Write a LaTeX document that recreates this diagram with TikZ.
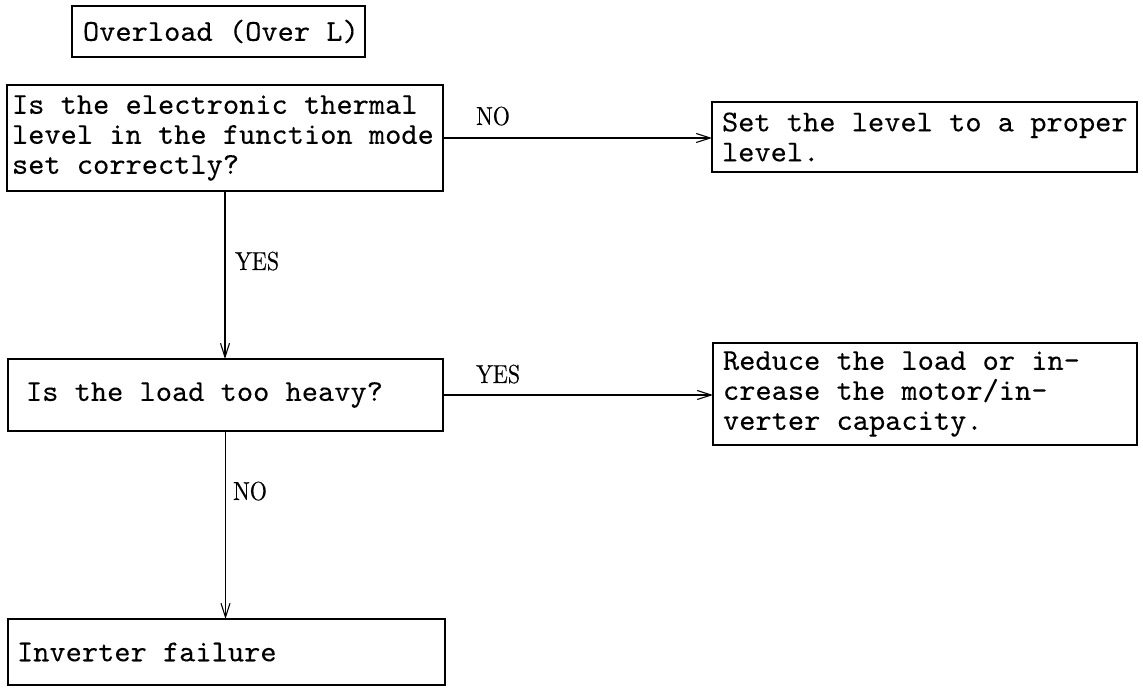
\documentclass[tikz,border=0pt]{standalone}
\usepackage{fontspec}
\usetikzlibrary{arrows.meta}
\newfontfamily\boxfont{lmmono10-regular.otf}[FakeStretch=1.02,FakeBold=0.15]
\newfontfamily\lblfont{lmroman10-regular.otf}[FakeStretch=0.85,FakeBold=0.3]
\newcommand\boxtext{\boxfont\fontsize{30.3}{30}\selectfont\spaceskip=0.5355em plus 0pt minus 0pt\relax}
\begin{document}
\begin{tikzpicture}[x=1pt,y=-1pt,
  fbox/.style={draw, line width=1.9pt, outer sep=0pt, inner ysep=0pt, align=left, anchor=west,
    font=\boxtext},
  conn/.style={line width=1.1pt, -{Straight Barb[length=14pt,width=9pt]}},
  lbl/.style={anchor=base west, inner sep=0pt, font={\lblfont\fontsize{26}{26}\selectfont}}]
\useasboundingbox[fill=white] (0,0) rectangle (1143,692);

\node[fbox, inner xsep=11pt, text width=271pt, minimum height=51pt] (title) at (72,31.5)
  {\boxtext\mbox{Overload (Over L)}};
\node[fbox, inner xsep=5pt, text width=426pt, minimum height=106pt] (b1) at (7,138)
  {\boxtext\mbox{Is the electronic thermal}\\\mbox{level in the function mode}\\\mbox{set correctly?}};
\node[fbox, inner xsep=10pt, text width=405pt, minimum height=70pt] (r1) at (712,137)
  {\boxtext\mbox{Set the level to a proper}\\\mbox{level.}};
\node[fbox, inner xsep=18pt, text width=399pt, minimum height=72pt] (b2) at (8,395)
  {\boxtext\mbox{Is the load too heavy?}};
\node[fbox, inner xsep=10pt, text width=404pt, minimum height=102pt] (r2) at (713,394)
  {\boxtext\mbox{Reduce the load or in-}\\\mbox{crease the motor/in-}\\\mbox{verter capacity.}};
\node[fbox, inner xsep=9pt, text width=419pt, minimum height=66pt] (b3) at (8,652)
  {\boxtext\mbox{Inverter failure}};

\draw[conn] (b1.south) -- (b1.south |- b2.north);
\draw[conn] (b1.east) -- (b1.east -| r1.west);
\draw[conn] (b2.east) -- (b2.east -| r2.west);
\draw[conn] (b2.south) -- (b2.south |- b3.north);

\node[lbl] (lno1) at (476,125) {NO};
\node[lbl] (lyes1) at (235,270) {YES};
\node[lbl] (lyes2) at (476,383) {YES};
\node[lbl] (lno2) at (233,500) {NO};
\end{tikzpicture}
\end{document}
